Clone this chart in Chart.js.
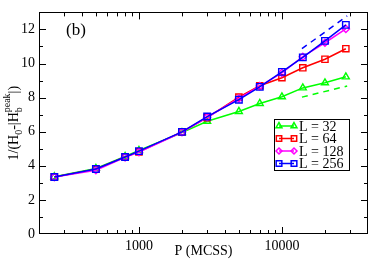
<!DOCTYPE html>
<html>
<head>
<meta charset="utf-8">
<script src="https://cdn.jsdelivr.net/npm/chart.js@4.4.1/dist/chart.umd.min.js"></script>
<style>
  html, body { margin: 0; padding: 0; background: #fff; }
  #wrap { width: 374px; height: 263px; }
</style>
</head>
<body>
<div id="wrap"><canvas id="myChart" width="374" height="263"></canvas></div>
<script>
// P (MCSS)
const steps = [256, 500, 800, 1000, 2000, 3000, 5000, 7000, 10000, 14000, 20000, 28000];
const L32  = [3.36, 3.85, 4.55, 4.90, 5.95, 6.61, 7.19, 7.66, 8.05, 8.57, 8.87, 9.22];
const L64  = [3.34, 3.80, 4.52, 4.82, 5.99, 6.83, 8.03, 8.70, 9.17, 9.75, 10.25, 10.87];
const L128 = [3.34, 3.74, 4.50, 4.80, 5.97, 6.85, 7.95, 8.68, 9.45, 10.40, 11.22, 12.03];
const L256 = [3.34, 3.81, 4.52, 4.86, 5.99, 6.89, 7.88, 8.63, 9.51, 10.36, 11.33, 12.27];
// guide lines (dashed)
const guideX = [13800, 28600];
const guideTop = [10.87, 12.79];
const guideBottom = [8.03, 8.68];

const xTicks = [1000, 10000];
const yTicks = [0, 2, 4, 6, 8, 10, 12];

const serif = '"Liberation Serif", "Times New Roman", serif';

function pts(xs, ys) { return xs.map((x, i) => ({ x: x, y: ys[i] })); }

const series = [
  { label: 'L = 32',  data: L32,  color: '#00ff00', style: 'triangle', r: 4.0, order: 3 },
  { label: 'L = 64',  data: L64,  color: '#ff0000', style: 'rect',     r: 4.4, order: 2 },
  { label: 'L = 128', data: L128, color: '#ff00ff', style: 'rectRot',  r: 3.6, order: 1 },
  { label: 'L = 256', data: L256, color: '#0000ff', style: 'rect',     r: 4.6, order: 0 }
];

const datasets = series.map(s => ({
  label: s.label,
  data: pts(steps, s.data),
  borderColor: s.color,
  backgroundColor: 'transparent',
  pointBorderColor: s.color,
  pointBackgroundColor: 'transparent',
  pointStyle: s.style,
  pointRadius: s.r,
  pointBorderWidth: 1.4,
  borderWidth: 1.5,
  order: s.order
}));
datasets.push({
  label: 'guide1', data: pts(guideX, guideTop), borderColor: '#0000ff',
  borderDash: [6, 5], borderWidth: 1.5, pointRadius: 0, order: 4
});
datasets.push({
  label: 'guide2', data: pts(guideX, guideBottom), borderColor: '#00ff00',
  borderDash: [6, 5], borderWidth: 1.5, pointRadius: 0, order: 4
});

const decor = {
  id: 'decor',
  afterDraw(chart) {
    const ctx = chart.ctx;
    const a = chart.chartArea;
    const xs = chart.scales.x, ys = chart.scales.y;
    ctx.save();
    ctx.strokeStyle = '#000';
    ctx.lineWidth = 1;
    ctx.strokeRect(Math.round(a.left) + 0.5, Math.round(a.top) + 0.5,
      Math.round(a.right - a.left) - 1, Math.round(a.bottom - a.top) - 1);

    // x ticks (inward, bottom and top)
    ctx.beginPath();
    for (let d = 100; d <= 100000; d *= 10) {
      for (let m = 1; m <= 9; m++) {
        const v = d * m;
        if (v <= xs.min || v >= xs.max) continue;
        const px = Math.round(xs.getPixelForValue(v)) + 0.5;
        const len = m === 1 ? 7 : 4;
        ctx.moveTo(px, a.bottom); ctx.lineTo(px, a.bottom - len);
        ctx.moveTo(px, a.top); ctx.lineTo(px, a.top + len);
      }
    }
    // y ticks (inward, left and right)
    for (let v = 1; v < 13; v++) {
      const py = Math.round(ys.getPixelForValue(v)) + 0.5;
      const len = v % 2 === 0 ? 7 : 4;
      ctx.moveTo(a.left, py); ctx.lineTo(a.left + len, py);
      ctx.moveTo(a.right, py); ctx.lineTo(a.right - len, py);
    }
    ctx.stroke();

    // panel label
    ctx.fillStyle = '#000';
    ctx.font = '17px ' + serif;
    ctx.textBaseline = 'alphabetic';
    ctx.textAlign = 'left';
    ctx.fillText('(b)', 66, 35);

    // x title
    ctx.font = '14px ' + serif;
    ctx.textAlign = 'center';
    ctx.fillText('P (MCSS)', (a.left + a.right) / 2, 255);

    // y title with sub/superscripts
    const parts = [
      { t: '1/(H', f: 14, dy: 0 },
      { t: '0', f: 10, dy: 3.5 },
      { t: '-|H', f: 14, dy: 0 },
      { t: 'b', f: 10, dy: 3.5, stackSup: 'peak' },
      { t: '|)', f: 14, dy: 0 }
    ];
    ctx.save();
    ctx.translate(18, (a.top + a.bottom) / 2);
    ctx.rotate(-Math.PI / 2);
    ctx.textAlign = 'left';
    let total = 0;
    parts.forEach(p => {
      ctx.font = p.f + 'px ' + serif;
      let w = ctx.measureText(p.t).width;
      if (p.stackSup) w = Math.max(w, ctx.measureText(p.stackSup).width);
      p.w = w; total += w;
    });
    let cx = -total / 2;
    parts.forEach(p => {
      ctx.font = p.f + 'px ' + serif;
      ctx.fillText(p.t, cx, p.dy);
      if (p.stackSup) ctx.fillText(p.stackSup, cx, -8);
      cx += p.w;
    });
    ctx.restore();

    // legend
    const bx = 274, by = 119, bw = 75, bh = 51;
    ctx.fillStyle = '#fff';
    ctx.fillRect(bx, by, bw, bh);
    ctx.strokeStyle = '#000';
    ctx.strokeRect(bx + 0.5, by + 0.5, bw, bh);
    series.forEach((s, i) => {
      const y = 126 + i * 12.5;
      const x1 = 279, x2 = 294;
      ctx.strokeStyle = s.color;
      ctx.lineWidth = 1.5;
      ctx.beginPath(); ctx.moveTo(x1, y); ctx.lineTo(x2, y); ctx.stroke();
      const opt = { pointStyle: s.style, radius: s.r - 0.6, rotation: 0, borderWidth: 1.4 };
      ctx.fillStyle = 'transparent';
      Chart.helpers.drawPoint(ctx, opt, x1, y);
      Chart.helpers.drawPoint(ctx, opt, x2, y);
      ctx.fillStyle = '#000';
      ctx.font = '14px ' + serif;
      ctx.textAlign = 'left';
      ctx.textBaseline = 'middle';
      ctx.fillText(s.label, 299, y + 1);
    });
    ctx.restore();
  }
};

const ctx = document.getElementById('myChart').getContext('2d');
const chart = new Chart(ctx, {
  type: 'line',
  data: { datasets },
  options: {
    responsive: false,
    animation: false,
    layout: { padding: { top: 2, right: 1, left: 0, bottom: 0 } },
    plugins: { legend: { display: false }, tooltip: { enabled: false } },
    scales: {
      x: {
        type: 'logarithmic',
        min: 200,
        max: 40000,
        afterFit: s => { s.height = 29; },
        afterBuildTicks: s => { s.ticks = xTicks.map(v => ({ value: v })); },
        grid: { display: false, drawTicks: false },
        border: { display: false },
        ticks: {
          autoSkip: false, maxRotation: 0, padding: 4, color: '#000',
          font: { family: serif, size: 14 },
          callback: v => String(v)
        }
      },
      y: {
        type: 'linear',
        min: 0,
        max: 13,
        afterFit: s => { s.width = 39; },
        afterBuildTicks: s => { s.ticks = yTicks.map(v => ({ value: v })); },
        grid: { display: false, drawTicks: false },
        border: { display: false },
        ticks: {
          padding: 4, color: '#000',
          font: { family: serif, size: 14 },
          callback: v => String(v)
        }
      }
    }
  },
  plugins: [decor]
});
</script>
</body>
</html>
